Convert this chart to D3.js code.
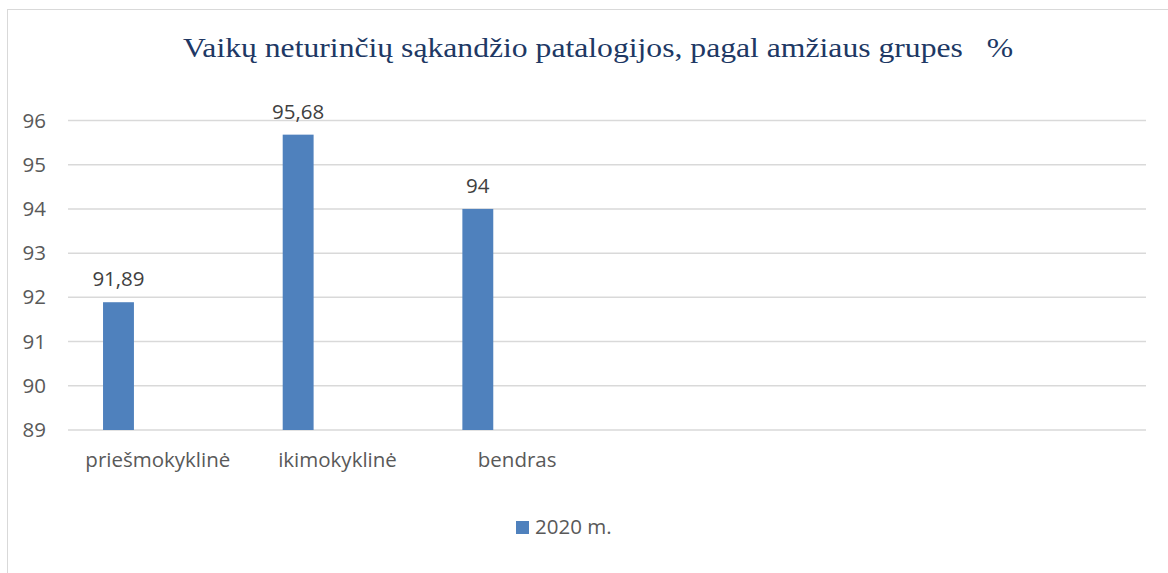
<!DOCTYPE html>
<html>
<head>
<meta charset="utf-8">
<script src="https://cdn.jsdelivr.net/npm/d3@7"></script>
<style>
  body { margin: 0; background: #fff; }
  svg { display: block; }
</style>
</head>
<body>
<div id="chart"></div>
<script>
// Chart data
const title = 'Vaikų neturinčių sąkandžio patalogijos, pagal amžiaus grupes   %';
const categories = ['priešmokyklinė', 'ikimokyklinė', 'bendras', '', ' ', '  '];
const seriesName = '2020 m.';
const values = [91.89, 95.68, 94, null, null, null];
const valueLabels = ['91,89', '95,68', '94', '', '', ''];
const yTicks = [89, 90, 91, 92, 93, 94, 95, 96];

const width = 1168, height = 573;
const margin = { top: 120.5, right: 22, bottom: 143, left: 68 };
const labelFont = '"Open Sans", sans-serif';
const labelSize = 20.5;

const svg = d3.select('#chart')
    .append('svg')
    .attr('width', width)
    .attr('height', height);

// Chart frame (runs off the right and bottom edge)
svg.append('rect')
    .attr('x', 7.5)
    .attr('y', 9.5)
    .attr('width', width + 20)
    .attr('height', height + 20)
    .attr('fill', 'none')
    .attr('stroke', '#d9d9d9')
    .attr('stroke-width', 1);

// Title
svg.append('text')
    .attr('x', 183)
    .attr('y', 57)
    .attr('font-family', '"Liberation Serif", "Times New Roman", serif')
    .attr('font-size', 28)
    .attr('fill', '#203864')
    .attr('textLength', 830)
    .attr('lengthAdjust', 'spacingAndGlyphs')
    .style('white-space', 'pre')
    .text(title);

const x = d3.scaleBand()
    .domain(categories)
    .range([margin.left, width - margin.right]);

const y = d3.scaleLinear()
    .domain([89, 96])
    .range([height - margin.bottom, margin.top]);

// Gridlines
svg.append('g')
    .selectAll('line')
    .data(yTicks)
    .enter()
    .append('line')
    .attr('x1', margin.left)
    .attr('x2', width - margin.right)
    .attr('y1', d => y(d))
    .attr('y2', d => y(d))
    .attr('stroke', '#d9d9d9')
    .attr('stroke-width', 1.5);

// Y axis labels
const yAxis = svg.append('g')
    .attr('transform', `translate(${margin.left - 22},0)`)
    .call(d3.axisLeft(y).tickValues(yTicks).tickFormat(d3.format('d')).tickSize(0).tickPadding(0));
yAxis.select('.domain').remove();
yAxis.selectAll('text')
    .attr('font-family', labelFont)
    .attr('font-size', labelSize)
    .attr('fill', '#595959');

// Category labels
const xAxis = svg.append('g')
    .attr('transform', `translate(0,${height - margin.bottom})`)
    .call(d3.axisBottom(x).tickSize(0).tickPadding(22));
xAxis.select('.domain').remove();
xAxis.selectAll('text')
    .attr('font-family', labelFont)
    .attr('font-size', labelSize)
    .attr('fill', '#595959');

// Bars sit in the first slot of each category
const barOffset = x.bandwidth() * 0.195;
const barWidth = x.bandwidth() * 0.172;

const bars = categories.map((c, i) => ({ cat: c, value: values[i], label: valueLabels[i] }))
    .filter(d => d.value !== null);

svg.append('g')
    .selectAll('rect')
    .data(bars)
    .enter()
    .append('rect')
    .attr('x', d => x(d.cat) + barOffset)
    .attr('y', d => y(d.value))
    .attr('width', barWidth)
    .attr('height', d => y(89) - y(d.value))
    .attr('fill', '#4f81bd');

// Value labels
svg.append('g')
    .selectAll('text')
    .data(bars)
    .enter()
    .append('text')
    .attr('x', d => x(d.cat) + barOffset + barWidth / 2)
    .attr('y', d => y(d.value) - 16)
    .attr('text-anchor', 'middle')
    .attr('font-family', labelFont)
    .attr('font-size', labelSize)
    .attr('fill', '#404040')
    .text(d => d.label);

// Legend
const legend = svg.append('g')
    .attr('transform', 'translate(516,521)');
legend.append('rect')
    .attr('width', 13)
    .attr('height', 13)
    .attr('fill', '#4f81bd');
legend.append('text')
    .attr('x', 19)
    .attr('y', 13)
    .attr('font-family', labelFont)
    .attr('font-size', labelSize)
    .attr('fill', '#595959')
    .text(seriesName);
</script>
</body>
</html>
